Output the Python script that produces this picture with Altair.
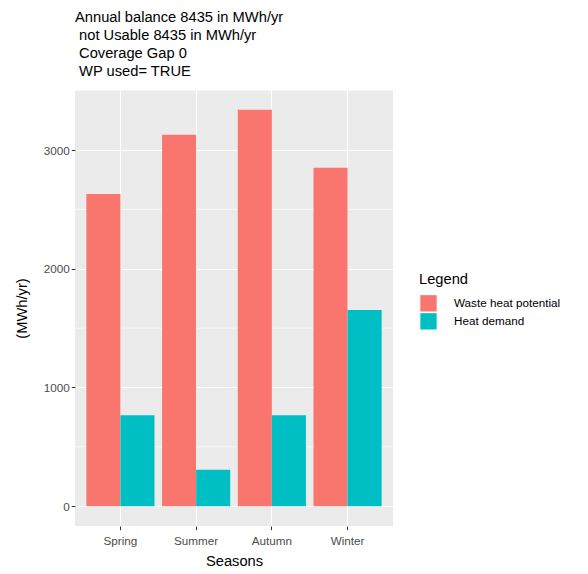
import altair as alt
import pandas as pd

seasons = ["Spring", "Summer", "Autumn", "Winter"]
series = ["Waste heat potential", "Heat demand"]
waste_heat = [2630, 3128, 3339, 2852]
heat_demand = [767, 306, 767, 1653]
colors = ["#F8766D", "#00BFC4"]
y_ticks = [0, 1000, 2000, 3000]
minor_ticks = [500, 1500, 2500, 3500]
title_lines = [
    "Annual balance 8435 in MWh/yr",
    "\u200b\u00a0not Usable 8435 in MWh/yr",
    "\u200b\u00a0Coverage Gap 0",
    "\u200b\u00a0WP used= TRUE",
]

rows = []
for s, w, h in zip(seasons, waste_heat, heat_demand):
    rows.append({"Season": s, "Type": series[0], "Value": w})
    rows.append({"Season": s, "Type": series[1], "Value": h})
df = pd.DataFrame(rows)
minor_df = pd.DataFrame({"v": minor_ticks})

FONT = "Liberation Sans"
ydom = [-167, 3506]

yscale = alt.Scale(domain=ydom, nice=False, zero=False)

minor = alt.Chart(minor_df).mark_rule(color="white", strokeWidth=0.6).encode(
    y=alt.Y("v:Q", scale=yscale)
)

bars = alt.Chart(df).mark_bar().encode(
    x=alt.X(
        "Season:N",
        sort=seasons,
        scale=alt.Scale(paddingInner=0.1, paddingOuter=0.15),
        axis=alt.Axis(
            title="Seasons",
            bandPosition=0.5,
            grid=True,
            gridColor="white",
            gridWidth=1.1,
            labelAngle=0,
            labelFont=FONT,
            labelFontSize=11.7,
            labelColor="#4D4D4D",
            labelPadding=6,
            tickColor="#333333",
            tickSize=3.7,
            tickWidth=1,
            domain=False,
            titleFont=FONT,
            titleFontSize=14.7,
            titleFontWeight="normal",
            titleColor="black",
            titlePadding=6,
        ),
    ),
    xOffset=alt.XOffset("Type:N", sort=series, scale=alt.Scale(domain=series, paddingInner=0, paddingOuter=0)),
    y=alt.Y(
        "Value:Q",
        scale=yscale,
        axis=alt.Axis(
            title="(MWh/yr)",
            values=y_ticks,
            format="d",
            grid=True,
            gridColor="white",
            gridWidth=1.1,
            labelFont=FONT,
            labelFontSize=11.7,
            labelColor="#4D4D4D",
            labelPadding=2,
            tickColor="#333333",
            tickSize=3.7,
            tickWidth=1,
            domain=False,
            titleFont=FONT,
            titleFontSize=14.7,
            titleFontWeight="normal",
            titleColor="black",
            titlePadding=14,
        ),
    ),
    color=alt.Color(
        "Type:N",
        sort=series,
        scale=alt.Scale(domain=series, range=colors),
        legend=alt.Legend(
            title="Legend",
            orient="none",
            legendX=344,
            legendY=182,
            titleFont=FONT,
            titleFontSize=14.7,
            titleFontWeight="normal",
            titleColor="black",
            titlePadding=8,
            labelFont=FONT,
            labelFontSize=11.7,
            labelColor="black",
            labelOffset=16,
            symbolType="square",
            symbolSize=300,
            symbolStrokeColor="white",
            symbolStrokeWidth=1,
            symbolOpacity=1,
            rowPadding=0,
            clipHeight=17.3,
        ),
    ),
)

chart = (
    alt.layer(minor, bars)
    .properties(
        width=318,
        height=436,
        padding={"left": 67, "top": 82, "right": 180, "bottom": 46},
        autosize=alt.AutoSizeParams(type="none"),
        title=alt.TitleParams(
            text=title_lines,
            anchor="start",
            frame="group",
            font=FONT,
            fontSize=14.7,
            fontWeight="normal",
            color="black",
            lineHeight=18,
            offset=11,
        ),
    )
    .configure_view(fill="#EBEBEB", stroke=None)
    .configure_axis(gridOpacity=1)
)

chart.save("out.html", embed_options={"renderer": "svg", "actions": False})
